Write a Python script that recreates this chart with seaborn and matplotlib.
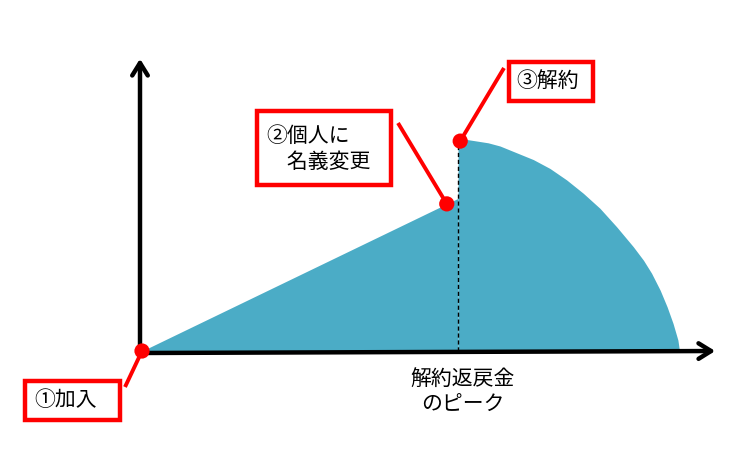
import matplotlib
matplotlib.use("Agg")
import matplotlib.pyplot as plt
import seaborn as sns
import pandas as pd
from matplotlib.patches import FancyArrowPatch, Rectangle

# refund value over time (arbitrary units: time 0-100, peak value 100)
rise_t = [0, 58.8]
rise_v = [0, 72]
fall_t = [58.8, 60.1, 64.4, 66.6, 72.8, 75.9, 79.0, 82.1, 85.2, 88.3, 91.4, 93.3,
          94.8, 96.4, 97.7, 98.8, 99.7, 100]
fall_v = [100, 99.9, 98.2, 96.7, 90.3, 86.1, 80.7, 74.4, 67.3, 58.6, 49.2, 42.8,
          36.7, 28.7, 20.8, 13.0, 5.2, 0]

# event points: join, change of holder, surrender
event_t = [0, 56.7, 59.2]
event_v = [0, 69.4, 99]
event_labels = ["①加入", "②個人に\n\u3000名義変更", "③解約"]
peak_label = "解約返戻金\nのピーク"

W, H = 755, 462
X0, Y0, SX, SY = 142, 351, 5.375, 2.12


def px(x, y):
    # pixel position on the canvas -> data units
    return (x - X0) / SX, (Y0 - y) / SY


sns.set_theme(style="white")
plt.rcParams["font.family"] = ["Noto Sans CJK JP", "DejaVu Sans"]

fig = plt.figure(figsize=(W / 100, H / 100), dpi=100)
ax = fig.add_axes([0, 0, 1, 1])
ax.set_xlim(px(0, 0)[0], px(W, 0)[0])
ax.set_ylim(px(0, H)[1], px(0, 0)[1])
ax.axis("off")

fill_color = "#4BACC6"
ax.fill_between(rise_t, 0, rise_v, color=fill_color, lw=0)
ax.fill_between(fall_t, 0, fall_v, color=fill_color, lw=0)
ax.plot([fall_t[0], fall_t[0]], [0, fall_v[0]], color="black", lw=1, ls=(0, (3, 2)))

# axes with arrow heads
for start, end in [(px(140, 353), px(718, 351)), (px(140, 353), px(140, 56))]:
    ax.add_patch(FancyArrowPatch(start, end, arrowstyle="->,head_length=0.45,head_width=0.28",
                                 mutation_scale=20, lw=3.2, color="black", zorder=3))

# label boxes and connectors (pixel layout)
boxes = [(25, 381, 95, 39), (257, 111, 134, 74), (509, 62, 84, 39)]
text_pos = [(34, 400), (266, 149), (516, 81)]
line_from = [(125, 387), (398, 123), (504, 68)]

for (bx, by, bw, bh), (tx, ty), (lx, ly), t, v, lab in zip(boxes, text_pos, line_from,
                                                           event_t, event_v, event_labels):
    x0, y0 = px(bx, by + bh)
    x1, y1 = px(bx + bw, by)
    ax.add_patch(Rectangle((x0, y0), x1 - x0, y1 - y0, fill=False, ec="#FF0000", lw=3.2, zorder=4))
    ax.text(*px(tx, ty), lab, ha="left", va="center", fontsize=15, color="black",
            linespacing=1.28, zorder=5)
    lx_d, ly_d = px(lx, ly)
    ax.plot([lx_d, t], [ly_d, v], color="#FF0000", lw=2.8, zorder=4, solid_capstyle="butt")

df = pd.DataFrame({"t": event_t, "v": event_v})
sns.scatterplot(data=df, x="t", y="v", ax=ax, color="#FF0000", s=120, edgecolor="none", zorder=6)

ax.text(*px(463, 392), peak_label, ha="center", va="center", fontsize=15, color="black",
        linespacing=1.28, multialignment="center")

fig.savefig("out.png", dpi=100, facecolor="white")
